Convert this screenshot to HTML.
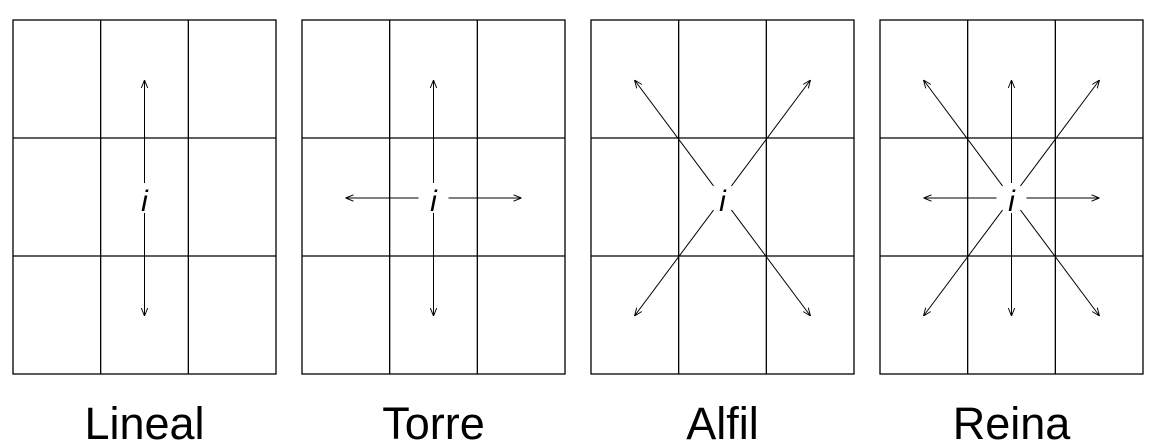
<!DOCTYPE html>
<html><head><meta charset="utf-8">
<style>
html,body{margin:0;padding:0;background:#fff;}
svg{display:block;}
text{font-family:"Liberation Sans",sans-serif;}
</style></head>
<body>
<svg id="chart" width="1157" height="441" viewBox="0 0 1157 441" xmlns="http://www.w3.org/2000/svg">
<defs>
<marker id="ah" viewBox="0 0 10 10" refX="10" refY="5" markerWidth="8" markerHeight="8" markerUnits="userSpaceOnUse" orient="auto">
<path d="M0,1 L10,5 L0,9" fill="none" stroke="#000" stroke-width="1.2"/>
</marker>
</defs>
</svg>
<script>
const pieces = ["Lineal", "Torre", "Alfil", "Reina"];
const lineal = [[0,-1],[0,1]];
const torre = [[0,-1],[0,1],[-1,0],[1,0]];
const alfil = [[-1,-1],[1,-1],[-1,1],[1,1]];
const reina = [[0,-1],[0,1],[-1,0],[1,0],[-1,-1],[1,-1],[-1,1],[1,1]];
const moves = [lineal, torre, alfil, reina];

const svgEl = document.getElementById('chart');
const NS = 'http://www.w3.org/2000/svg';
const panelX = [13, 302, 591, 880];
const pw = 263, boardTop = 20, boardBot = 374;
function mk(t, a){const e=document.createElementNS(NS,t);for(const k in a)e.setAttribute(k,a[k]);svgEl.appendChild(e);return e;}

pieces.forEach((name, p) => {
  const x0 = panelX[p], x1 = x0 + pw;
  const cw = pw/3, ch = (boardBot-boardTop)/3;
  const rect = mk('rect', {x:x0, y:boardTop, width:pw, height:boardBot-boardTop, fill:'none', stroke:'#000', 'stroke-width':1.3});
  
  
  for (let i = 1; i < 3; i++) {
    const v = mk('line', {x1:x0+cw*i, y1:boardTop, x2:x0+cw*i, y2:boardBot, stroke:'#000', 'stroke-width':1.3});
    
    
    const h = mk('line', {x1:x0, y1:boardTop+ch*i, x2:x1, y2:boardTop+ch*i, stroke:'#000', 'stroke-width':1.3});
    
    
  }
  const cx = x0 + pw/2, cy = 198;
  const reachX = 88, reachY = 118, gap = 15;
  moves[p].forEach(d => {
    const ex = cx + d[0]*reachX, ey = cy + d[1]*reachY;
    const len = Math.hypot(ex-cx, ey-cy);
    const ux = (ex-cx)/len, uy = (ey-cy)/len;
    const a = mk('line', {x1:cx+ux*gap, y1:cy+uy*gap, x2:ex, y2:ey, stroke:'#000', 'stroke-width':1, 'marker-end':'url(#ah)'});
    
    
  });
  const it = mk('text', {x:cx, y:211, 'text-anchor':'middle', 'font-size':30, 'font-style':'italic'});
  it.textContent = 'i';
  
  
  const lb = mk('text', {x:cx, y:439, 'text-anchor':'middle', 'font-size':45});
  lb.textContent = name;
  
  
});
</script>
</body></html>
